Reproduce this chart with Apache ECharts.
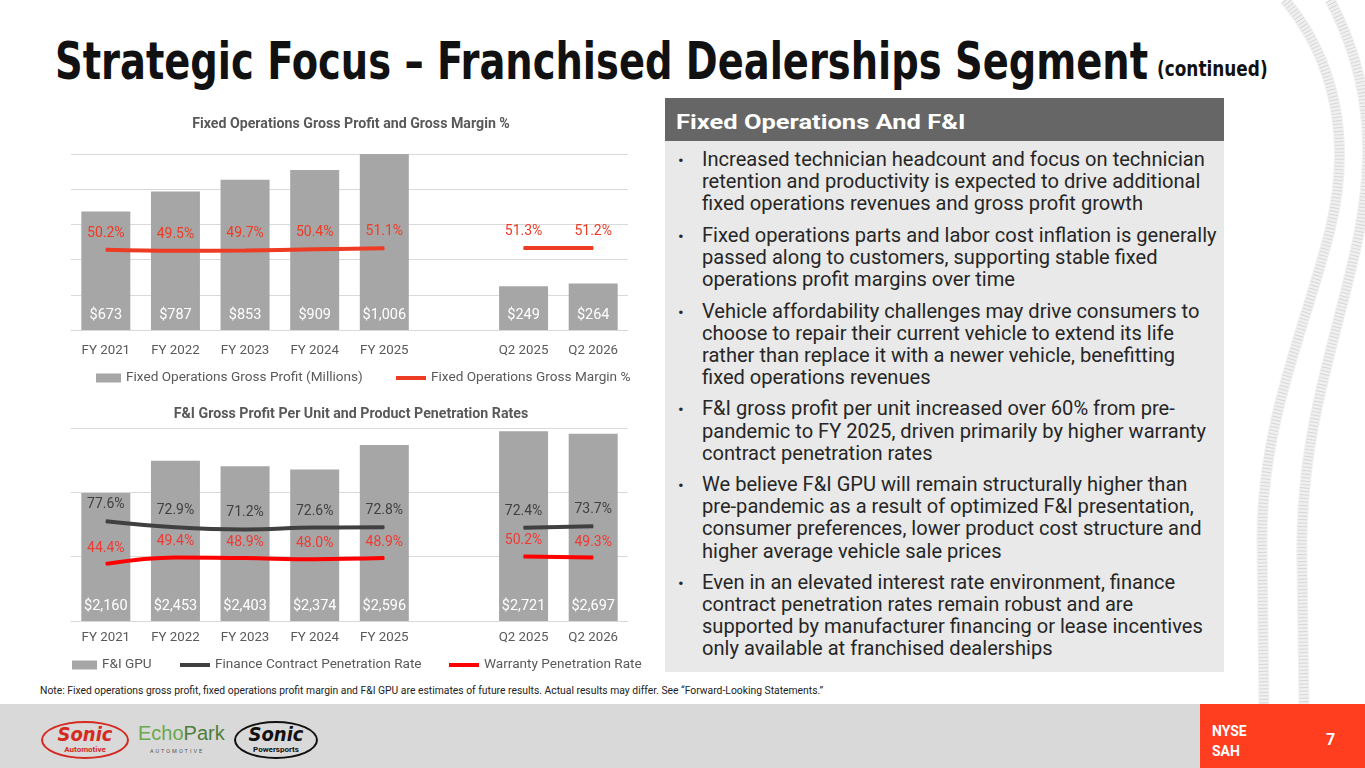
<!DOCTYPE html>
<html>
<head>
<meta charset="utf-8">
<title>Strategic Focus – Franchised Dealerships Segment</title>
<script src="https://cdn.jsdelivr.net/npm/echarts@6/dist/echarts.min.js"></script>
<style>
  body { margin: 0; width: 1365px; height: 768px; overflow: hidden; background: #fff; position: relative; font-family: Roboto, "Liberation Sans", sans-serif; }
  .abs { position: absolute; white-space: nowrap; }
  .fit { transform-origin: 0 0; }
  #tracks { position: absolute; left: 0; top: 0; z-index: 0; }
  #title { left: 55px; top: 31px; font-family: "Liberation Sans Narrow", "DejaVu Sans Condensed", sans-serif; font-weight: bold; font-size: 52px; line-height: 60px; color: #111; z-index: 2; }
  #cont { left: 1157px; top: 56px; font-family: "Liberation Sans Narrow", "DejaVu Sans Condensed", sans-serif; font-weight: bold; font-size: 22px; line-height: 26px; color: #111; z-index: 2; }
  #chart { position: absolute; left: 0; top: 90px; width: 660px; height: 600px; z-index: 2; }
  #panel { position: absolute; left: 665px; top: 98px; width: 559px; height: 574px; background: #e9e9e9; z-index: 2; }
  #panelHead { position: absolute; left: 0; top: 0; width: 559px; height: 43px; background: #666; }
  #panelHead span { left: 11px; top: 1px; line-height: 47px; font-size: 21px; font-weight: bold; color: #fff; }
  #bullets { position: absolute; left: 0; top: 51px; width: 559px; color: #262626; font-size: 19.5px; line-height: 22.1px; }
  .para { position: relative; padding-left: 37px; margin-bottom: 9.5px; }
  .para:before { content: "\2022"; position: absolute; left: 13px; top: 0; font-size: 17px; }
  .para div { white-space: nowrap; transform: scaleX(1.03); transform-origin: 0 0; }
  #note { left: 40px; top: 684px; font-size: 10px; line-height: 14px; color: #222; font-family: "Liberation Sans Narrow", Roboto, sans-serif; }
  #footer { position: absolute; left: 0; top: 704px; width: 1200px; height: 64px; background: #d9d9d9; }
  #tag { position: absolute; left: 1200px; top: 704px; width: 165px; height: 64px; background: #ff3d1f; color: #fff; font-weight: bold; }
  #tag .t1 { left: 12px; top: 17px; font-size: 14px; line-height: 20px; }
  #tag .pg { left: 126px; top: 26px; font-size: 16px; }
  .logo { position: absolute; top: 721px; height: 34px; border-radius: 50%; text-align: center; font-style: italic; font-weight: bold; }
  #sonicA { left: 41px; width: 84px; border: 2px solid #d42a20; color: #d42a20; }
  #sonicP { left: 234px; width: 80px; border: 2px solid #111; color: #111; }
  .logo .big { display: block; font-size: 20px; line-height: 22px; font-family: "DejaVu Sans Condensed", sans-serif; }
  .logo .small { display: block; font-size: 8px; line-height: 9px; font-style: normal; }
  #echo { left: 138px; top: 722px; font-size: 20px; color: #6aa84f; font-family: "Liberation Sans Narrow", sans-serif; }
  #echo2 { left: 150px; top: 748px; font-size: 5.5px; letter-spacing: 2px; color: #555; }
</style>
</head>
<body>
<svg id="tracks" width="1365" height="768">
  <g fill="none">
    <path d="M1285,0 C1335,60 1352,140 1330,230 C1305,330 1262,420 1262,540 L1264,704" stroke="#f0f0f0" stroke-width="11"/>
    <path d="M1285,0 C1335,60 1352,140 1330,230 C1305,330 1262,420 1262,540 L1264,704" stroke="#d6d6d6" stroke-width="9" stroke-dasharray="1 2.5"/>
    <path d="M1330,0 C1372,80 1378,160 1352,265 C1330,360 1300,440 1302,560 L1304,704" stroke="#f0f0f0" stroke-width="11"/>
    <path d="M1330,0 C1372,80 1378,160 1352,265 C1330,360 1300,440 1302,560 L1304,704" stroke="#d6d6d6" stroke-width="9" stroke-dasharray="1 2.5"/>
  </g>
</svg>

<div id="title" class="abs fit" data-w="1093">Strategic Focus – Franchised Dealerships Segment</div>
<div id="cont" class="abs fit" data-w="111">(continued)</div>

<div id="chart"></div>

<div id="panel">
  <div id="panelHead"><span class="abs fit" data-w="290">Fixed Operations And F&amp;I</span></div>
  <div id="bullets">
    <div class="para">
      <div>Increased technician headcount and focus on technician</div>
      <div>retention and productivity is expected to drive additional</div>
      <div>fixed operations revenues and gross profit growth</div>
    </div>
    <div class="para">
      <div>Fixed operations parts and labor cost inflation is generally</div>
      <div>passed along to customers, supporting stable fixed</div>
      <div>operations profit margins over time</div>
    </div>
    <div class="para">
      <div>Vehicle affordability challenges may drive consumers to</div>
      <div>choose to repair their current vehicle to extend its life</div>
      <div>rather than replace it with a newer vehicle, benefitting</div>
      <div>fixed operations revenues</div>
    </div>
    <div class="para">
      <div>F&amp;I gross profit per unit increased over 60% from pre-</div>
      <div>pandemic to FY 2025, driven primarily by higher warranty</div>
      <div>contract penetration rates</div>
    </div>
    <div class="para">
      <div>We believe F&amp;I GPU will remain structurally higher than</div>
      <div>pre-pandemic as a result of optimized F&amp;I presentation,</div>
      <div>consumer preferences, lower product cost structure and</div>
      <div>higher average vehicle sale prices</div>
    </div>
    <div class="para">
      <div>Even in an elevated interest rate environment, finance</div>
      <div>contract penetration rates remain robust and are</div>
      <div>supported by manufacturer financing or lease incentives</div>
      <div>only available at franchised dealerships</div>
    </div>
  </div>
</div>

<div id="note" class="abs fit" data-w="783">Note: Fixed operations gross profit, fixed operations profit margin and F&amp;I GPU are estimates of future results. Actual results may differ. See “Forward-Looking Statements.”</div>

<div id="footer"></div>
<div class="logo" id="sonicA"><span class="big">Sonic</span><span class="small">Automotive</span></div>
<div class="abs" id="echo">Echo<span style="color:#4e7d3a">Park</span></div>
<div class="abs" id="echo2">AUTOMOTIVE</div>
<div class="logo" id="sonicP"><span class="big">Sonic</span><span class="small">Powersports</span></div>
<div id="tag">
  <div class="abs t1">NYSE<br>SAH</div>
  <div class="abs pg">7</div>
</div>

<script>
// categories shared by both charts (blank slot separates annual from quarterly)
var categories = ['FY 2021', 'FY 2022', 'FY 2023', 'FY 2024', 'FY 2025', '', 'Q2 2025', 'Q2 2026'];

// Fixed operations gross profit ($ millions) and gross margin %
var fixedOpsProfit = [673, 787, 853, 909, 1006, null, 249, 264];
var fixedOpsMargin = [50.2, 49.5, 49.7, 50.4, 51.1, null, 51.3, 51.2];

// F&I gross profit per unit and penetration rates %
var fiGpu = [2160, 2453, 2403, 2374, 2596, null, 2721, 2697];
var financeRate = [77.6, 72.9, 71.2, 72.6, 72.8, null, 72.4, 73.7];
var warrantyRate = [44.4, 49.4, 48.9, 48.0, 48.9, null, 50.2, 49.3];

var FONT = 'Roboto, "Liberation Sans", sans-serif';
var LINE_ICON = 'path://M0,0H30V4H0Z';

function money(p) { return '$' + p.value.toLocaleString('en-US'); }
function pct(p) { return p.value.toFixed(1) + '%'; }

function xAxisFor(idx) {
  return {
    type: 'category',
    gridIndex: idx,
    data: categories,
    axisLine: { lineStyle: { color: '#d9d9d9' } },
    axisTick: { show: false },
    axisLabel: { color: '#595959', fontSize: 13.3, margin: idx === 0 ? 14 : 10 }
  };
}

function barSeries(name, data, xi, yi) {
  return {
    name: name, type: 'bar', xAxisIndex: xi, yAxisIndex: yi,
    data: data, barWidth: 49,
    itemStyle: { color: '#a6a6a6' },
    label: { show: true, position: 'insideBottom', distance: 7, color: '#fff', fontSize: 14.5, formatter: money }
  };
}

function lineSeries(name, data, xi, yi, color, labelColor, dist) {
  return {
    name: name, type: 'line', xAxisIndex: xi, yAxisIndex: yi,
    data: data, smooth: 0.4, connectNulls: false,
    symbol: 'circle', symbolSize: 1,
    itemStyle: { color: color },
    lineStyle: { color: color, width: 4 },
    label: { show: true, position: 'top', distance: dist, color: labelColor, fontSize: 14, formatter: pct },
    z: 3
  };
}

// one legend per entry so each sits where it does on the slide
function legendItem(name, left, top, isLine) {
  return {
    data: [isLine ? { name: name, icon: LINE_ICON } : { name: name, icon: 'rect' }],
    left: left, top: top,
    itemWidth: isLine ? 30 : 25, itemHeight: isLine ? 4 : 9, itemGap: 0,
    textStyle: { color: '#595959', fontSize: 13.6 }
  };
}

var myChart = echarts.init(document.getElementById('chart'));

var option = {
  animation: false,
  textStyle: { fontFamily: FONT },
  graphic: [
    { type: 'text', x: 351, y: 34, style: { text: 'Fixed Operations Gross Profit and Gross Margin %', align: 'center', verticalAlign: 'middle', fontSize: 14.2, fontWeight: 'bold', fill: '#595959', fontFamily: FONT } },
    { type: 'text', x: 351, y: 324, style: { text: 'F&I Gross Profit Per Unit and Product Penetration Rates', align: 'center', verticalAlign: 'middle', fontSize: 14.2, fontWeight: 'bold', fill: '#595959', fontFamily: FONT } }
  ],
  legend: [
    legendItem('Fixed Operations Gross Profit (Millions)', 91, 276, false),
    legendItem('Fixed Operations Gross Margin %', 391, 276, true),
    legendItem('F&I GPU', 67, 563, false),
    legendItem('Finance Contract Penetration Rate', 175, 563, true),
    legendItem('Warranty Penetration Rate', 444, 563, true)
  ],
  grid: [
    { left: 71, top: 64, width: 557, height: 176 },
    { left: 71, top: 338, width: 557, height: 193 }
  ],
  xAxis: [xAxisFor(0), xAxisFor(1)],
  yAxis: [
    { type: 'value', gridIndex: 0, min: 0, max: 1000, interval: 200,
      axisLabel: { show: false }, axisLine: { show: false }, axisTick: { show: false },
      splitLine: { lineStyle: { color: '#d9d9d9' } } },
    { type: 'value', gridIndex: 0, min: 0, max: 110, show: false },
    { type: 'value', gridIndex: 1, min: 1000, max: 2750, show: false },
    { type: 'value', gridIndex: 1, min: 0, max: 150, interval: 50,
      axisLabel: { show: false }, axisLine: { show: false }, axisTick: { show: false },
      splitLine: { lineStyle: { color: '#d9d9d9' } } }
  ],
  series: [
    barSeries('Fixed Operations Gross Profit (Millions)', fixedOpsProfit, 0, 0),
    lineSeries('Fixed Operations Gross Margin %', fixedOpsMargin, 0, 1, '#ee3b24', '#ee3b24', 9),
    barSeries('F&I GPU', fiGpu, 1, 2),
    lineSeries('Finance Contract Penetration Rate', financeRate, 1, 3, '#404040', '#404040', 9),
    lineSeries('Warranty Penetration Rate', warrantyRate, 1, 3, '#ff0000', '#ee3a33', 8)
  ]
};

myChart.setOption(option);

// squeeze condensed headings to the widths they take on the slide
function fitText() {
  var els = document.querySelectorAll('.fit');
  for (var i = 0; i < els.length; i++) {
    var el = els[i];
    el.style.transform = 'none';
    var w = el.offsetWidth;
    if (w > 0) el.style.transform = 'scaleX(' + (+el.getAttribute('data-w') / w) + ')';
  }
}
fitText();
if (document.fonts && document.fonts.ready) document.fonts.ready.then(fitText);
</script>
</body>
</html>
